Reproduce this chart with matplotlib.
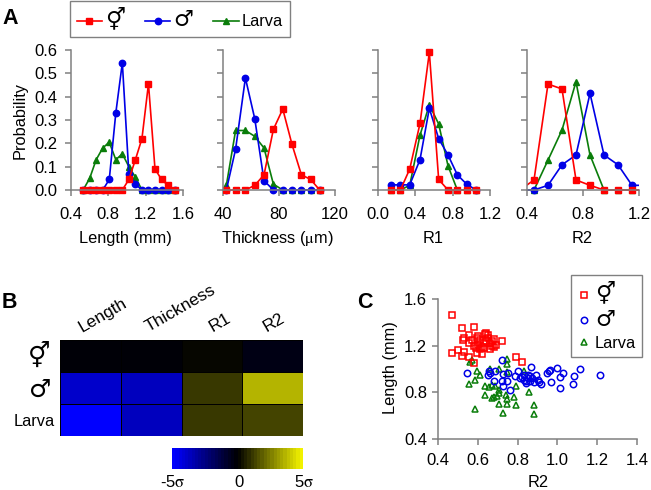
import numpy as np
import matplotlib
matplotlib.use('Agg')
import matplotlib.pyplot as plt
from matplotlib.colors import LinearSegmentedColormap
from matplotlib.lines import Line2D

plt.rcParams['font.family'] = ['Liberation Sans', 'DejaVu Sans']
plt.rcParams['font.size'] = 12
plt.rcParams['mathtext.fontset'] = 'stix'

W, H = 651, 490
HERM = '\u26a5'
MALE = '\u2642'

RED = '#ff0000'
BLUE = '#0000e6'
GREEN = '#0a7d0a'
GREY = '#808080'

# panel A histograms
length_x = [0.53, 0.60, 0.67, 0.74, 0.81, 0.88, 0.95, 1.02, 1.09, 1.16, 1.23, 1.30, 1.37, 1.44, 1.51]
length_herm = [0, 0, 0, 0, 0, 0, 0, 0.045, 0.13, 0.22, 0.455, 0.09, 0.045, 0.02, 0]
length_male = [0, 0, 0, 0, 0.045, 0.33, 0.545, 0.07, 0.025, 0, 0, 0, 0, 0, 0]
length_larva = [0, 0.05, 0.13, 0.18, 0.205, 0.13, 0.155, 0.10, 0.055, 0, 0, 0, 0, 0, 0]

thick_x = [42.4, 49, 56, 62.7, 69.3, 76, 82.7, 89.3, 96, 102.7, 109]
thick_herm = [0, 0, 0, 0.02, 0.065, 0.26, 0.347, 0.195, 0.065, 0.045, 0]
thick_male = [0, 0.175, 0.48, 0.305, 0.04, 0, 0, 0, 0, 0, 0]
thick_larva = [0.02, 0.255, 0.255, 0.23, 0.18, 0.025, 0, 0, 0, 0, 0]

r1_x = [0.14, 0.24, 0.34, 0.45, 0.55, 0.65, 0.75, 0.85, 0.95, 1.05]
r1_herm = [0, 0, 0.09, 0.285, 0.59, 0.045, 0, 0, 0, 0]
r1_male = [0.022, 0.022, 0.022, 0.13, 0.35, 0.22, 0.15, 0.065, 0.025, 0]
r1_larva = [0, 0, 0.02, 0.235, 0.365, 0.283, 0.104, 0, 0, 0]

r2_x = [0.35, 0.45, 0.55, 0.65, 0.75, 0.85, 0.95, 1.05, 1.15, 1.25]
r2_herm = [0, 0.043, 0.454, 0.433, 0.043, 0.02, 0, 0, 0, 0]
r2_male = [0, 0, 0.02, 0.108, 0.15, 0.414, 0.15, 0.108, 0.02, 0.02]
r2_larva = [0, 0, 0.128, 0.257, 0.464, 0.15, 0, 0, 0, 0]

# panel B z scores
heat_cols = ['Length', 'Thickness', 'R1', 'R2']
heat_vals = [[-0.25, -0.25, 0, -0.4],
             [-4.0, -3.6, 1.2, 3.5],
             [-5.0, -3.6, 1.1, 1.4]]

# panel C scatter
herm_r2 = [0.47, 0.52, 0.58, 0.532, 0.524, 0.557, 0.554, 0.596, 0.638, 0.643, 0.722, 0.47, 0.499, 0.529,
           0.52, 0.554, 0.596, 0.621, 0.583, 0.792, 0.824, 0.60, 0.61, 0.62, 0.59, 0.58, 0.64, 0.65, 0.66,
           0.67, 0.68, 0.69, 0.68, 0.66, 0.63, 0.61, 0.57, 0.65, 0.67, 0.60, 0.63]
herm_len = [1.466, 1.35, 1.357, 1.266, 1.251, 1.289, 1.223, 1.266, 1.30, 1.309, 1.237, 1.137, 1.16, 1.143,
            1.109, 1.103, 1.137, 1.131, 1.051, 1.10, 1.057, 1.21, 1.25, 1.19, 1.18, 1.20, 1.24, 1.27, 1.22,
            1.20, 1.26, 1.21, 1.19, 1.17, 1.22, 1.17, 1.25, 1.29, 1.24, 1.28, 1.18]
male_r2 = [0.546, 0.722, 0.869, 1.115, 1.212, 0.998, 0.964, 0.956, 0.948, 1.028, 1.011, 1.085, 1.077, 1.011,
           0.97, 0.763, 0.655, 0.663, 0.688, 0.651, 0.683, 0.722, 0.747, 0.727, 0.725, 0.75, 0.789, 0.802,
           0.82, 0.83, 0.84, 0.85, 0.86, 0.87, 0.83, 0.85, 0.88, 0.89, 0.90, 0.91, 0.92, 0.84, 0.86, 0.81]
male_len = [0.966, 1.08, 1.02, 0.997, 0.951, 1.011, 0.994, 0.98, 0.966, 0.966, 0.931, 0.943, 0.871, 0.837,
            0.886, 0.823, 0.98, 0.966, 0.98, 0.946, 0.894, 0.894, 0.90, 0.857, 0.96, 0.966, 0.937, 0.986,
            0.93, 0.95, 0.90, 0.92, 0.94, 0.92, 0.91, 0.95, 0.89, 0.95, 0.91, 0.89, 0.87, 0.88, 0.90, 0.92]
larva_r2 = [0.562, 0.57, 0.596, 0.613, 0.557, 0.588, 0.635, 0.655, 0.638, 0.671, 0.747, 0.747, 0.663, 0.705,
            0.747, 0.83, 0.794, 0.856, 0.884, 0.884, 0.588, 0.727, 0.792, 0.747, 0.705, 0.78, 0.68, 0.696,
            0.705, 0.708, 0.743, 0.747, 0.671, 0.688]
larva_len = [1.06, 1.074, 0.98, 0.951, 0.871, 0.903, 0.857, 0.846, 0.78, 0.86, 1.089, 1.046, 1.0, 1.003,
             0.971, 0.986, 0.857, 0.80, 0.691, 0.611, 0.654, 0.62, 0.694, 0.70, 0.703, 0.76, 0.76, 0.771,
             0.823, 0.794, 0.78, 0.743, 0.751, 0.851]


def px_axes(left, top, right, bottom):
    return fig.add_axes([left / W, 1 - bottom / H, (right - left) / W, (bottom - top) / H])


def style_axes(ax, xpad, ypad):
    for side in ['top', 'right']:
        ax.spines[side].set_visible(False)
    for side in ['left', 'bottom']:
        ax.spines[side].set_color(GREY)
        ax.spines[side].set_linewidth(1.1)
    ax.tick_params(color=GREY, width=1.1, length=4, labelcolor='black')
    ax.tick_params(axis='x', pad=xpad)
    ax.tick_params(axis='y', pad=ypad)


def sym(x, y, s, size=18, **kw):
    fig.text(x / W, 1 - y / H, s, fontsize=size, family='DejaVu Sans', ha='center', va='center', **kw)


fig = plt.figure(figsize=(W / 100, H / 100), dpi=100)

# panel A
panels = [
    (71, 183, length_x, length_larva, length_male, length_herm, (0.4, 1.6), [0.4, 0.8, 1.2, 1.6], 'Length (mm)'),
    (223, 335, thick_x, thick_larva, thick_male, thick_herm, (40, 120), [40, 80, 120], 'Thickness ($\\mathrm{\\mu}$m)'),
    (378, 490, r1_x, r1_larva, r1_male, r1_herm, (0.0, 1.2), [0.0, 0.4, 0.8, 1.2], 'R1'),
    (527, 639, r2_x, r2_larva, r2_male, r2_herm, (0.4, 1.2), [0.4, 0.8, 1.2], 'R2'),
]
for i, (left, right, xs, larva, male, herm, xlim, xt, xlab) in enumerate(panels):
    # extra room under zero so the markers sitting on the axis stay whole
    ax = px_axes(left, 43, right, 197)
    ax.set_xlim(*xlim)
    ax.set_ylim(-0.03, 0.63)
    style_axes(ax, 8, 5.5)
    ax.spines['bottom'].set_position(('data', 0))
    ax.spines['left'].set_bounds(0, 0.6)
    ax.plot(xs, larva, color=GREEN, marker='^', ms=4.6, lw=1.2)
    ax.plot(xs, male, color=BLUE, marker='o', ms=4.6, lw=1.2)
    ax.plot(xs, herm, color=RED, marker='s', ms=4.2, lw=1.2)
    ax.set_xticks(xt)
    ax.set_xticklabels(['%.1f' % v if xlim[1] < 10 else '%d' % v for v in xt])
    ax.set_yticks([0, 0.1, 0.2, 0.3, 0.4, 0.5, 0.6])
    if i == 0:
        ax.set_yticklabels(['0.0', '0.1', '0.2', '0.3', '0.4', '0.5', '0.6'])
    else:
        ax.set_yticklabels([])
    fig.text((left + right) / 2 / W - 0.002, 1 - 238 / H, xlab, ha='center', va='center', fontsize=11.8)

fig.text(20 / W, 1 - 120 / H, 'Probability', rotation=90, ha='center', va='center', fontsize=11.8)

handles = [Line2D([], [], color=RED, marker='s', ms=4.2, lw=1.2),
           Line2D([], [], color=BLUE, marker='o', ms=4.6, lw=1.2),
           Line2D([], [], color=GREEN, marker='^', ms=4.6, lw=1.2)]
leg = fig.legend(handles, [HERM, MALE, 'Larva'], ncol=3, loc='upper left',
                 bbox_to_anchor=(70 / W, 1 - 1 / H), bbox_transform=fig.transFigure,
                 borderaxespad=0, fancybox=False, framealpha=1, edgecolor=GREY,
                 fontsize=11.8, handlelength=1.55, handletextpad=0.2, columnspacing=1.2,
                 borderpad=0.4)
for t in leg.get_texts()[:2]:
    t.set_family('DejaVu Sans')
    t.set_fontsize(16)
leg.get_frame().set_linewidth(1)

# panel B
cmap = LinearSegmentedColormap.from_list('by', [(0, 0, 1), (0, 0, 0), (0.95, 0.95, 0)], N=40)
ax = px_axes(60, 340, 303, 436)
mesh = ax.pcolormesh(np.array(heat_vals), cmap=cmap, vmin=-5, vmax=5, edgecolors='black', linewidth=0.6)
ax.invert_yaxis()
ax.set_xticks([])
ax.set_yticks([])
for s in ax.spines.values():
    s.set_visible(False)

label_x = [84, 150, 214, 268]
for name, x in zip(heat_cols, label_x):
    fig.text(x / W, 1 - 335 / H, name, rotation=30, rotation_mode='anchor', ha='left', va='bottom', fontsize=12.5)
sym(39, 356, HERM, size=18)
sym(40, 390, MALE, size=18)
fig.text(55 / W, 1 - 421 / H, 'Larva', ha='right', va='center', fontsize=11.8)

cax = px_axes(172, 448, 303, 469)
cb = fig.colorbar(mesh, cax=cax, orientation='horizontal')
cb.outline.set_visible(False)
cb.set_ticks([])
for x, s in [(173, '-5$\\mathrm{\\sigma}$'), (239, '0'), (304, '5$\\mathrm{\\sigma}$')]:
    fig.text(x / W, 1 - 482 / H, s, ha='center', va='center', fontsize=12)

# panel C
ax = px_axes(438, 299, 637, 439)
ax.set_xlim(0.4, 1.4)
ax.set_ylim(0.4, 1.6)
style_axes(ax, 6, 4)
ax.plot(larva_r2, larva_len, ls='none', marker='^', ms=5, mfc='none', mec=GREEN, mew=1.1)
ax.plot(male_r2, male_len, ls='none', marker='o', ms=4.6, mfc='none', mec=BLUE, mew=1.1)
ax.plot(herm_r2, herm_len, ls='none', marker='s', ms=4.2, mfc='none', mec=RED, mew=1.1)
ax.set_xticks([0.4, 0.6, 0.8, 1.0, 1.2, 1.4])
ax.set_xticklabels(['0.4', '0.6', '0.8', '1.0', '1.2', '1.4'])
ax.set_yticks([0.4, 0.8, 1.2, 1.6])
ax.set_yticklabels(['0.4', '0.8', '1.2', '1.6'])
fig.text(538 / W, 1 - 482 / H, 'R2', ha='center', va='center', fontsize=11.8)
fig.text(390 / W, 1 - 368 / H, 'Length (mm)', rotation=90, ha='center', va='center', fontsize=11.8)

handles = [Line2D([], [], ls='none', marker='s', ms=4.2, mfc='none', mec=RED, mew=1.1),
           Line2D([], [], ls='none', marker='o', ms=4.6, mfc='none', mec=BLUE, mew=1.1),
           Line2D([], [], ls='none', marker='^', ms=5, mfc='none', mec=GREEN, mew=1.1)]
leg = fig.legend(handles, [HERM, MALE, 'Larva'], loc='upper left',
                 bbox_to_anchor=(571 / W, 1 - 275 / H), bbox_transform=fig.transFigure,
                 borderaxespad=0, fancybox=False, framealpha=1, edgecolor=GREY,
                 fontsize=11.8, handlelength=0.8, handletextpad=0.25, labelspacing=0.35,
                 borderpad=0.4)
for t in leg.get_texts()[:2]:
    t.set_family('DejaVu Sans')
    t.set_fontsize(16)
leg.get_frame().set_linewidth(1)

# panel letters
for x, y, s in [(2, 18, 'A'), (2, 302, 'B'), (357, 303, 'C')]:
    fig.text(x / W, 1 - y / H, s, fontweight='bold', fontsize=15.5, ha='left', va='center')

fig.savefig('out.png', dpi=100)
